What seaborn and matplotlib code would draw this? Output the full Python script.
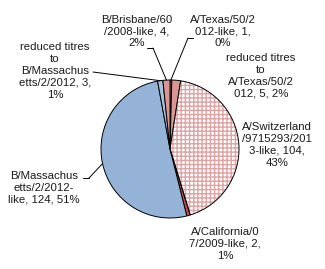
import numpy as np
import matplotlib
matplotlib.use("Agg")
import matplotlib.pyplot as plt
import seaborn as sns
from matplotlib.patches import Wedge

sns.set_theme(style="white")
plt.rcParams['font.family'] = ['Liberation Sans', 'DejaVu Sans']
plt.rcParams['hatch.linewidth'] = 1.0

# data (clockwise from 12 o'clock)
labels = ["A/Texas/50/2\n012-like, 1,\n0%",
          "reduced titres\nto\nA/Texas/50/2\n012, 5, 2%",
          "A/Switzerland\n/9715293/201\n3-like, 104,\n43%",
          "A/California/0\n7/2009-like, 2,\n1%",
          "B/Massachus\netts/2/2012-\nlike, 124, 51%",
          "reduced titres\nto\nB/Massachus\netts/2/2012, 3,\n1%",
          "B/Brisbane/60\n/2008-like, 4,\n2%"]
values = [1, 5, 104, 2, 124, 3, 4]
colors = ["#D99694", "#D99694", "#FFFFFF", "#C0504D", "#95B3D7", "#A9C1E0", "#D99694"]

W, H = 325, 269
fig = plt.figure(figsize=(W / 100, H / 100), dpi=100)
ax = fig.add_axes([0, 0, 1, 1])

cx, cy, r = 170, H - 149, 69
wedges, _ = ax.pie(values, colors=colors, startangle=90, counterclock=False,
                   center=(cx, cy), radius=r, frame=True,
                   wedgeprops=dict(edgecolor='black', linewidth=0.7))
ax.set_xlim(0, W)
ax.set_ylim(0, H)
ax.set_aspect('equal')
ax.axis('off')

# hatched (checkered) slice
sw = wedges[2]
sw.set_hatch('++++')
sw.set_edgecolor('#DFA3A3')
sw.set_linewidth(0)
ax.add_patch(Wedge(sw.center, sw.r, sw.theta1, sw.theta2, fill=False,
                   edgecolor='black', linewidth=0.7, zorder=3))

# label positions (pixel coords: x, y from top)
pos = [(223, 31.5), (261, 76), (277, 145), (225, 244), (44, 188), (55, 71), (137, 31.5)]
for lab, (x, y) in zip(labels, pos):
    ax.text(x, H - y, lab, ha='center', va='center', multialignment='center',
            fontsize=8.2, linespacing=1.22, color='#1a1a1a')

def edge_pt(w, frac=1.0):
    ang = np.deg2rad((w.theta1 + w.theta2) / 2)
    return w.center[0] + w.r * frac * np.cos(ang), w.center[1] + w.r * frac * np.sin(ang)

# leader lines: (wedge index, text anchor start, stub end)
leaders = [(0, (193, 38), (188, 38)),
           (6, (147, 48), (153, 48)),
           (5, (93, 72), None),
           (4, (83, 178), (89, 178))]
for idx, a, b in leaders:
    px, py = edge_pt(wedges[idx])
    if b is not None:
        ax.plot([a[0], b[0]], [H - a[1], H - b[1]], color='black', lw=0.7)
        start = b
    else:
        start = a
    ax.plot([start[0], px], [H - start[1], py], color='black', lw=0.7)

fig.savefig("out.png", dpi=100, facecolor='white')
